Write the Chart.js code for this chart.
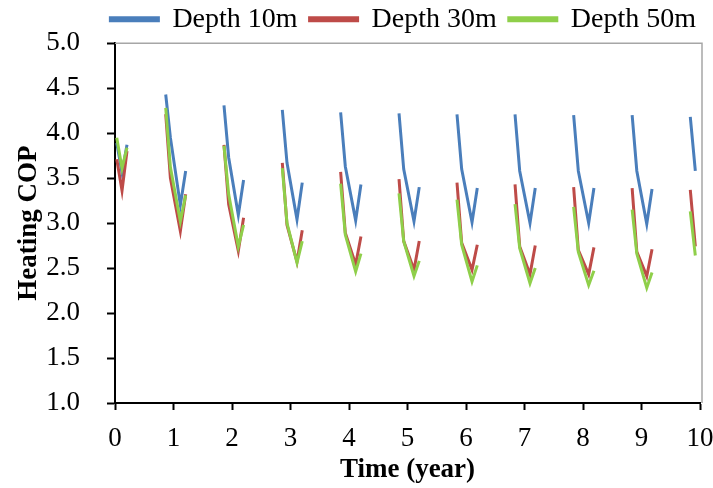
<!DOCTYPE html>
<html>
<head>
<meta charset="utf-8">
<script src="https://cdn.jsdelivr.net/npm/chart.js@4"></script>
<style>
  html, body { margin: 0; padding: 0; background: #fff; }
  #wrap { width: 713px; height: 488px; }
</style>
</head>
<body>
<div id="wrap"><canvas id="copChart" width="713" height="488"></canvas></div>
<script>
// time in years, null rows split the heating seasons
const timeYears = [
    0.030, 0.120, 0.205, 0.5,
    0.867, 0.947, 1.117, 1.208, 1.5,
    1.863, 1.943, 2.108, 2.198, 2.5,
    2.860, 2.940, 3.111, 3.201, 3.5,
    3.857, 3.937, 4.114, 4.204, 4.5,
    4.855, 4.935, 5.111, 5.201, 5.5,
    5.846, 5.926, 6.103, 6.193, 6.5,
    6.838, 6.918, 7.094, 7.184, 7.5,
    7.840, 7.920, 8.097, 8.187, 8.5,
    8.840, 8.920, 9.090, 9.180, 9.5,
    9.834, 9.920
];

const depth10 = [
    3.89, 3.56, 3.87, null,
    4.43, 3.95, 3.20, 3.58, null,
    4.31, 3.73, 3.09, 3.48, null,
    4.26, 3.67, 3.04, 3.45, null,
    4.23, 3.63, 3.03, 3.43, null,
    4.22, 3.60, 3.02, 3.40, null,
    4.21, 3.60, 3.01, 3.39, null,
    4.21, 3.58, 3.00, 3.39, null,
    4.20, 3.58, 3.00, 3.39, null,
    4.20, 3.58, 2.99, 3.38, null,
    4.18, 3.58
];

const depth30 = [
    3.71, 3.36, 3.80, null,
    4.21, 3.50, 2.91, 3.32, null,
    3.87, 3.21, 2.69, 3.06, null,
    3.67, 2.98, 2.57, 2.92, null,
    3.57, 2.89, 2.54, 2.85, null,
    3.49, 2.80, 2.48, 2.80, null,
    3.45, 2.78, 2.48, 2.76, null,
    3.43, 2.74, 2.43, 2.75, null,
    3.40, 2.70, 2.43, 2.73, null,
    3.39, 2.68, 2.41, 2.71, null,
    3.37, 2.74
];

const depth50 = [
    3.95, 3.61, 3.84, null,
    4.28, 3.62, 3.02, 3.31, null,
    3.86, 3.32, 2.74, 2.98, null,
    3.61, 3.00, 2.56, 2.80, null,
    3.44, 2.87, 2.46, 2.66, null,
    3.33, 2.80, 2.41, 2.58, null,
    3.26, 2.76, 2.35, 2.53, null,
    3.21, 2.72, 2.33, 2.50, null,
    3.18, 2.68, 2.31, 2.47, null,
    3.15, 2.66, 2.28, 2.45, null,
    3.13, 2.64
];

const seriesNames = ['Depth 10m', 'Depth 30m', 'Depth 50m'];
const seriesColors = ['#4a7ebb', '#be4b48', '#8fcf4a'];

const FONT = "'Liberation Serif', 'Times New Roman', serif";

function toPoints(ys) {
    return timeYears.map((t, i) => ({ x: t, y: ys[i] }));
}

// grey frame on top / right like the excel plot area
const plotFrame = {
    id: 'plotFrame',
    beforeDatasetsDraw(chart) {
        const a = chart.chartArea;
        const ctx = chart.ctx;
        ctx.save();
        ctx.strokeStyle = '#a6a6a6';
        ctx.lineWidth = 1.5;
        ctx.beginPath();
        ctx.moveTo(a.left, a.top);
        ctx.lineTo(a.right + 2, a.top);
        ctx.lineTo(a.right + 2, a.bottom);
        ctx.stroke();
        ctx.restore();
    }
};

const allSeries = [depth10, depth30, depth50];

const copChart = new Chart(document.getElementById('copChart').getContext('2d'), {
    type: 'line',
    data: {
        datasets: allSeries.map((ys, i) => ({
            label: seriesNames[i],
            data: toPoints(ys),
            borderColor: seriesColors[i],
            backgroundColor: seriesColors[i],
            borderWidth: 3,
            pointRadius: 0,
            tension: 0,
            spanGaps: false,
            order: 2 - i   // green drawn on top, like excel
        }))
    },
    options: {
        responsive: false,
        animation: false,
        layout: { padding: { left: 0, right: 5, top: -8, bottom: 0 } },
        plugins: {
            tooltip: { enabled: false },
            legend: {
                position: 'top',
                align: 'end',
                labels: {
                    sort: (a, b) => a.datasetIndex - b.datasetIndex,
                    font: { family: FONT, size: 28 },
                    color: '#000',
                    boxWidth: 48,
                    boxHeight: 3,
                    padding: 12
                }
            }
        },
        scales: {
            x: {
                type: 'linear',
                min: 0,
                max: 10,
                afterFit(scale) {
                    scale.height = 85;
                    scale.paddingLeft = 0;
                    scale.paddingRight = 13;
                },
                ticks: {
                    stepSize: 1,
                    color: '#000',
                    padding: 13,
                    font: { family: FONT, size: 27 }
                },
                grid: {
                    drawOnChartArea: false,
                    color: '#000',
                    tickLength: 7,
                    tickWidth: 2
                },
                border: { color: '#000', width: 2 },
                title: {
                    display: true,
                    text: 'Time (year)',
                    color: '#000',
                    padding: { top: 0, bottom: 2 },
                    font: { family: FONT, size: 27, weight: 'bold' }
                }
            },
            y: {
                type: 'linear',
                min: 1,
                max: 5,
                afterFit(scale) { scale.width = 115; },
                ticks: {
                    stepSize: 0.5,
                    color: '#000',
                    padding: 27,
                    font: { family: FONT, size: 27 },
                    callback: v => v.toFixed(1)
                },
                grid: {
                    drawOnChartArea: false,
                    color: '#000',
                    tickLength: 8,
                    tickWidth: 2
                },
                border: { color: '#000', width: 2 },
                title: {
                    display: true,
                    text: 'Heating COP',
                    color: '#000',
                    padding: { top: 13, bottom: 0 },
                    font: { family: FONT, size: 27, weight: 'bold' }
                }
            }
        }
    },
    plugins: [plotFrame]
});
</script>
</body>
</html>
